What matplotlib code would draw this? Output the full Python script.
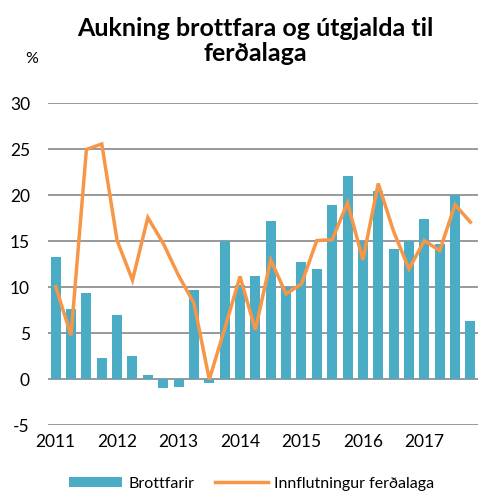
import matplotlib.pyplot as plt
import numpy as np

plt.rcParams["font.family"] = ["Lato", "DejaVu Sans"]
plt.rcParams["axes.unicode_minus"] = False

years = ["2011", "2012", "2013", "2014", "2015", "2016", "2017"]
quarters_per_year = 4

# Brottfarir (bars), quarterly growth, %
departures = [
    13.3, 7.7, 9.4, 2.3,
    7.0, 2.6, 0.5, -0.9,
    -0.8, 9.7, -0.4, 15.0,
    10.3, 11.3, 17.2, 10.1,
    12.8, 12.0, 19.0, 22.1,
    15.0, 20.5, 14.2, 15.1,
    17.4, 14.7, 20.1, 6.4,
]

# Innflutningur ferðalaga (line), quarterly growth, %
imports = [
    10.1, 4.8, 25.0, 25.6,
    15.1, 10.8, 17.6, 14.8,
    11.3, 8.3, 0.0, 5.5,
    11.2, 5.4, 13.0, 9.3,
    10.4, 15.1, 15.2, 19.2,
    13.0, 21.3, 16.1, 12.0,
    15.1, 14.0, 19.0, 17.1,
]

BAR_COLOR = "#4BACC6"
LINE_COLOR = "#F79646"
GRID_COLOR = "#888888"

fig = plt.figure(figsize=(4.8, 4.99), dpi=100)
ax = fig.add_axes([0.1, 0.1473, 0.896, 0.6453])

x = np.arange(len(departures))
bars = ax.bar(x, departures, width=0.65, color=BAR_COLOR, label="Brottfarir", zorder=2)
line, = ax.plot(x, imports, color=LINE_COLOR, linewidth=2.5,
                label="Innflutningur ferðalaga", zorder=3, solid_joinstyle="miter")

ax.set_xlim(-0.5, len(departures) - 0.5)
ax.set_ylim(-5, 30)
ax.set_yticks(np.arange(-5, 31, 5))
ax.set_xticks(x[::quarters_per_year])
ax.set_xticklabels(years)

for s in ax.spines.values():
    s.set_visible(False)
ax.yaxis.grid(True, color=GRID_COLOR, linewidth=1.2, zorder=0)
ax.set_axisbelow(True)
ax.tick_params(axis="both", length=0, labelsize=12.5, pad=6)
ax.tick_params(axis="y", pad=13)

fig.text(0.532, 0.965, "Aukning brottfara og útgjalda til\nferðalaga", ha="center",
         va="top", fontsize=18, fontweight="bold", linespacing=1.1)
fig.text(0.067, 0.882, "%", ha="center", va="center", fontsize=11.5)

fig.legend([bars, line], ["Brottfarir", "Innflutningur ferðalaga"],
           loc="lower center", bbox_to_anchor=(0.525, -0.012), ncol=2, frameon=False,
           fontsize=11.5, handlelength=3.3, handleheight=0.55, columnspacing=1.3,
           handletextpad=0.4)

fig.savefig("out.png", dpi=100, facecolor="white")
